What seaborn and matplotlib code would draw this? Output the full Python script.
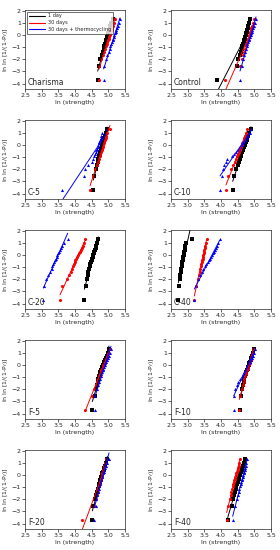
import numpy as np
import pandas as pd
import matplotlib
matplotlib.use('Agg')
import matplotlib.pyplot as plt
from matplotlib.lines import Line2D
import seaborn as sns

# Weibull rank positions ln ln [1/(1-Pf)], Pf = (i-0.5)/20
y_rank = [-3.676, -2.552, -2.013, -1.648, -1.367, -1.135, -0.934, -0.755, -0.592, -0.440,
          -0.295, -0.156, -0.019, 0.117, 0.255, 0.400, 0.556, 0.732, 0.952, 1.305]

series_names = ['1 day', '30 days', '30 days + thermocycling']
panel_names = ['Charisma', 'Control', 'C-5', 'C-10', 'C-20', 'C-40', 'F-5', 'F-10', 'F-20', 'F-40']

# ln(strength) values per panel: [1 day, 30 days, 30 days + thermocycling]
charisma = [
    [4.68, 4.71, 4.75, 4.80, 4.83, 4.87, 4.88, 4.90, 4.92, 4.93, 4.95, 4.97, 4.98, 5.00, 5.01, 5.03, 5.05, 5.06, 5.09, 5.13],
    [4.73, 4.72, 4.79, 4.83, 4.87, 4.90, 4.93, 4.95, 4.97, 4.99, 5.01, 5.02, 5.04, 5.06, 5.08, 5.10, 5.12, 5.14, 5.17, 5.21],
    [4.86, 4.87, 4.92, 4.97, 5.01, 5.04, 5.06, 5.09, 5.11, 5.13, 5.15, 5.16, 5.18, 5.20, 5.22, 5.24, 5.26, 5.28, 5.31, 5.35],
]
control = [
    [3.87, 4.47, 4.52, 4.56, 4.59, 4.62, 4.64, 4.66, 4.68, 4.70, 4.71, 4.72, 4.74, 4.75, 4.77, 4.78, 4.80, 4.82, 4.84, 4.87],
    [4.12, 4.58, 4.63, 4.66, 4.69, 4.72, 4.74, 4.76, 4.78, 4.80, 4.82, 4.83, 4.85, 4.87, 4.88, 4.90, 4.91, 4.93, 4.95, 4.98],
    [4.57, 4.62, 4.66, 4.70, 4.72, 4.75, 4.77, 4.79, 4.81, 4.83, 4.85, 4.87, 4.89, 4.90, 4.92, 4.94, 4.96, 4.98, 5.01, 5.05],
]
c5 = [
    [4.55, 4.57, 4.62, 4.65, 4.68, 4.70, 4.72, 4.74, 4.76, 4.77, 4.79, 4.80, 4.82, 4.83, 4.85, 4.87, 4.88, 4.90, 4.92, 4.96],
    [4.45, 4.55, 4.60, 4.65, 4.68, 4.71, 4.74, 4.76, 4.78, 4.80, 4.82, 4.84, 4.85, 4.87, 4.88, 4.90, 4.92, 4.94, 4.97, 5.05],
    [3.60, 4.28, 4.30, 4.40, 4.50, 4.55, 4.58, 4.60, 4.62, 4.64, 4.66, 4.68, 4.70, 4.71, 4.73, 4.75, 4.77, 4.78, 4.82, 4.93],
]
c10 = [
    [4.35, 4.40, 4.45, 4.50, 4.53, 4.56, 4.59, 4.61, 4.63, 4.65, 4.67, 4.69, 4.71, 4.73, 4.75, 4.77, 4.79, 4.82, 4.85, 4.90],
    [4.15, 4.22, 4.30, 4.36, 4.42, 4.46, 4.48, 4.51, 4.54, 4.56, 4.58, 4.60, 4.62, 4.64, 4.66, 4.68, 4.70, 4.72, 4.75, 4.77],
    [3.97, 4.02, 4.07, 4.10, 4.15, 4.18, 4.33, 4.40, 4.46, 4.50, 4.54, 4.58, 4.62, 4.66, 4.70, 4.74, 4.78, 4.82, 4.86, 4.90],
]
c20 = [
    [4.28, 4.32, 4.35, 4.38, 4.40, 4.42, 4.44, 4.46, 4.48, 4.50, 4.52, 4.53, 4.55, 4.57, 4.58, 4.60, 4.62, 4.64, 4.67, 4.70],
    [3.55, 3.62, 3.75, 3.82, 3.88, 3.92, 3.95, 3.97, 3.99, 4.01, 4.04, 4.07, 4.10, 4.13, 4.16, 4.19, 4.22, 4.24, 4.26, 4.30],
    [3.05, 3.06, 3.14, 3.20, 3.25, 3.30, 3.32, 3.35, 3.38, 3.40, 3.43, 3.45, 3.47, 3.50, 3.53, 3.55, 3.58, 3.62, 3.66, 3.78],
]
c40 = [
    [2.72, 2.73, 2.76, 2.78, 2.80, 2.81, 2.82, 2.83, 2.84, 2.85, 2.86, 2.87, 2.88, 2.89, 2.90, 2.91, 2.92, 2.93, 2.95, 3.13],
    [3.20, 3.24, 3.30, 3.33, 3.36, 3.38, 3.40, 3.41, 3.42, 3.44, 3.45, 3.46, 3.47, 3.48, 3.49, 3.50, 3.51, 3.52, 3.54, 3.57],
    [3.20, 3.25, 3.32, 3.36, 3.42, 3.47, 3.52, 3.56, 3.60, 3.64, 3.68, 3.71, 3.74, 3.77, 3.80, 3.83, 3.86, 3.89, 3.92, 3.96],
]
f5 = [
    [4.52, 4.60, 4.63, 4.66, 4.68, 4.70, 4.72, 4.74, 4.76, 4.78, 4.80, 4.82, 4.84, 4.86, 4.88, 4.90, 4.92, 4.95, 4.98, 5.02],
    [4.30, 4.50, 4.58, 4.63, 4.67, 4.70, 4.73, 4.75, 4.77, 4.79, 4.81, 4.83, 4.85, 4.87, 4.89, 4.91, 4.94, 4.97, 5.00, 5.05],
    [4.60, 4.61, 4.65, 4.69, 4.72, 4.75, 4.77, 4.79, 4.81, 4.83, 4.85, 4.87, 4.89, 4.91, 4.93, 4.95, 4.98, 5.01, 5.04, 5.08],
]
f10 = [
    [4.58, 4.60, 4.63, 4.65, 4.68, 4.70, 4.72, 4.74, 4.76, 4.78, 4.80, 4.82, 4.83, 4.85, 4.87, 4.89, 4.91, 4.93, 4.95, 4.98],
    [4.55, 4.58, 4.62, 4.65, 4.68, 4.70, 4.72, 4.74, 4.76, 4.78, 4.80, 4.82, 4.84, 4.86, 4.87, 4.89, 4.91, 4.93, 4.95, 4.96],
    [4.38, 4.39, 4.42, 4.48, 4.52, 4.56, 4.62, 4.66, 4.70, 4.73, 4.76, 4.79, 4.82, 4.85, 4.87, 4.90, 4.92, 4.95, 4.98, 5.02],
]
f20 = [
    [4.52, 4.55, 4.60, 4.64, 4.67, 4.69, 4.71, 4.73, 4.75, 4.76, 4.78, 4.79, 4.81, 4.82, 4.84, 4.86, 4.88, 4.90, 4.93, 4.97],
    [4.20, 4.58, 4.62, 4.66, 4.68, 4.70, 4.72, 4.74, 4.75, 4.77, 4.78, 4.80, 4.81, 4.82, 4.84, 4.85, 4.87, 4.88, 4.90, 4.92],
    [4.58, 4.62, 4.64, 4.67, 4.70, 4.72, 4.73, 4.75, 4.76, 4.78, 4.79, 4.81, 4.82, 4.84, 4.86, 4.88, 4.90, 4.93, 4.97, 5.02],
]
f40 = [
    [4.20, 4.32, 4.37, 4.40, 4.42, 4.44, 4.46, 4.48, 4.50, 4.52, 4.53, 4.55, 4.57, 4.58, 4.60, 4.62, 4.64, 4.66, 4.69, 4.72],
    [4.17, 4.22, 4.26, 4.29, 4.31, 4.33, 4.35, 4.37, 4.39, 4.40, 4.42, 4.43, 4.45, 4.46, 4.48, 4.50, 4.51, 4.53, 4.55, 4.57],
    [4.35, 4.43, 4.47, 4.50, 4.53, 4.55, 4.57, 4.59, 4.61, 4.62, 4.64, 4.65, 4.67, 4.68, 4.70, 4.71, 4.73, 4.74, 4.76, 4.77],
]
panels = [charisma, control, c5, c10, c20, c40, f5, f10, f20, f40]

colors = ['black', 'red', 'blue']
markers = ['s', 'o', '^']

sns.set_theme(style='ticks')
plt.rcParams['font.family'] = ['DejaVu Sans']

W, H = 280, 550
fig = plt.figure(figsize=(W / 100, H / 100), dpi=100)

for k, (name, data) in enumerate(zip(panel_names, panels)):
    row, col = divmod(k, 2)
    left = 25 if col == 0 else 171
    top = 110 * row + 10
    ax = fig.add_axes([left / W, (H - top - 79) / H, 100 / W, 79 / H])
    for j in range(3):
        df = pd.DataFrame({'x': data[j], 'y': y_rank})
        sns.regplot(data=df, x='x', y='y', ax=ax, ci=None, truncate=True,
                    color=colors[j], marker=markers[j],
                    scatter_kws={'s': 5, 'linewidths': 0, 'alpha': 1},
                    line_kws={'lw': 0.7}, label=series_names[j])
    ax.set_xlim(2.5, 5.5)
    ax.set_ylim(-4.45, 2.05)
    ax.set_xticks([2.5, 3.0, 3.5, 4.0, 4.5, 5.0, 5.5])
    ax.set_yticks([-4, -3, -2, -1, 0, 1, 2])
    ax.tick_params(labelsize=4.5, length=2, width=0.5, pad=1)
    for s in ax.spines.values():
        s.set_linewidth(0.5)
    ax.set_xlabel('ln (strength)', fontsize=4.5, labelpad=1)
    ax.set_ylabel('ln ln [1/(1-P$_f$)]', fontsize=4.5, labelpad=1)
    ax.text(0.03, 0.03, name, transform=ax.transAxes, fontsize=5.5, ha='left', va='bottom')
    if k == 0:
        handles = [Line2D([0], [0], color=c, lw=0.8) for c in colors]
        leg = ax.legend(handles, series_names, loc='upper left', fontsize=3.6, frameon=True,
                        fancybox=False, edgecolor='black', handlelength=3.2, borderpad=0.4,
                        labelspacing=0.35, handletextpad=0.6, borderaxespad=0.3)
        leg.get_frame().set_linewidth(0.5)

fig.savefig('out.png', dpi=100)
